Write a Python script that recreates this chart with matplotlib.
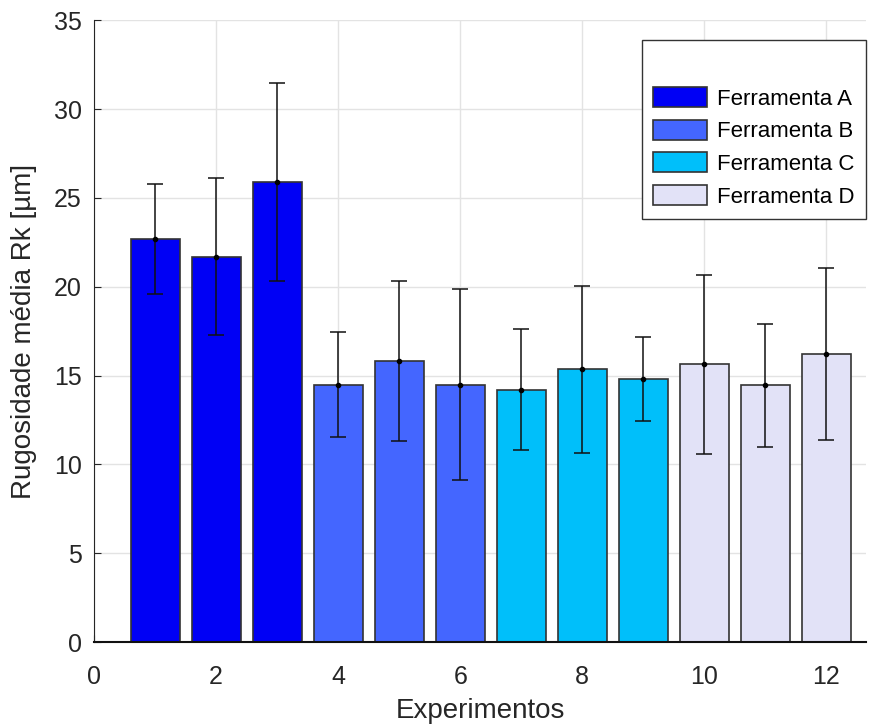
import matplotlib
matplotlib.use("Agg")
import matplotlib.pyplot as plt
from matplotlib.patches import Patch

plt.rcParams['font.family'] = ['Liberation Sans', 'DejaVu Sans']

experiments = [1, 2, 3, 4, 5, 6, 7, 8, 9, 10, 11, 12]
rk_mean = [22.7, 21.7, 25.9, 14.5, 15.85, 14.5, 14.22, 15.35, 14.8, 15.63, 14.46, 16.23]
rk_std = [3.1, 4.4, 5.55, 2.96, 4.5, 5.4, 3.42, 4.7, 2.36, 5.03, 3.47, 4.85]
tools = ['A', 'A', 'A', 'B', 'B', 'B', 'C', 'C', 'C', 'D', 'D', 'D']
tool_labels = ['Ferramenta A', 'Ferramenta B', 'Ferramenta C', 'Ferramenta D']
tool_colors = {'A': '#0000F5', 'B': '#4466FF', 'C': '#00BFFA', 'D': '#E2E2F7'}

fig = plt.figure(figsize=(8.8, 7.24), dpi=100)
ax = fig.add_axes([0.107, 0.113, 0.877, 0.859])

colors = [tool_colors[t] for t in tools]
ax.bar(experiments, rk_mean, width=0.8, color=colors, edgecolor='#333333',
       linewidth=1.2, zorder=2)
ax.errorbar(experiments, rk_mean, yerr=rk_std, fmt='o', color='black',
            ecolor='#111111', elinewidth=1.1, capsize=6, capthick=1.1,
            markersize=3, zorder=3)

ax.set_xlim(0, 12.65)
ax.set_ylim(0, 35)
ax.set_xticks(range(0, 13, 2))
ax.set_yticks(range(0, 36, 5))
ax.grid(True, color='#E3E3E3', linewidth=1, zorder=0)
ax.set_axisbelow(True)
ax.tick_params(direction='in', length=5, labelsize=18, colors='#262626',
               labelcolor='#262626', top=False, right=False)
ax.tick_params(axis='x', pad=16.5)
ax.tick_params(axis='y', pad=9)
for side in ('top', 'right'):
    ax.spines[side].set_visible(False)
ax.spines['left'].set_color('#262626')
ax.spines['bottom'].set_color('#111111')
ax.spines['bottom'].set_linewidth(1.5)

ax.set_xlabel('Experimentos', fontsize=20, color='#262626', labelpad=6.5)
ax.set_ylabel('Rugosidade média Rk [µm]', fontsize=20, color='#262626', labelpad=12)

handles = [Patch(facecolor=tool_colors[k], edgecolor='#333333', linewidth=1.2)
           for k in ['A', 'B', 'C', 'D']]
leg = ax.legend(handles, tool_labels, loc='upper right', fontsize=16,
                title=' ', title_fontsize=20, frameon=True, fancybox=False,
                edgecolor='#333333', framealpha=1, handlelength=2.45,
                handleheight=1.0, labelspacing=0.45, handletextpad=0.45,
                borderpad=0.5, borderaxespad=0.0, bbox_to_anchor=(1.0, 0.968))
leg.get_frame().set_linewidth(1.0)

fig.savefig('out.png', dpi=100)
